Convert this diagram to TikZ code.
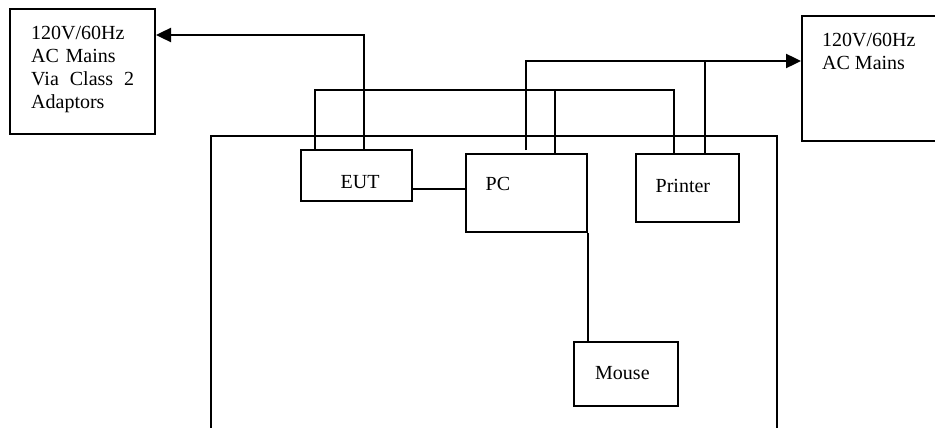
\documentclass[tikz,border=0pt]{standalone}
\usepackage{fontspec}
\setmainfont{Liberation Serif}
\usetikzlibrary{arrows.meta,calc}

\begin{document}
\begin{tikzpicture}[
  x=1pt, y=-1pt,
  font=\fontsize{20}{23}\selectfont,
  >={Triangle[length=15pt, width=14pt]},
  box/.style={rectangle, draw, line width=2pt, inner sep=0pt},
  lbl/.style={inner sep=0pt, align=left, anchor=north west},
  wire/.style={draw, line width=2pt},
  feed/.style={->, draw, line width=2.4pt},
]
\useasboundingbox (0,0) rectangle (935,428);
\clip (0,0) rectangle (935,428);

% ---- supply boxes ----
\node[box, minimum width=145pt, minimum height=125pt,
      label={[lbl, text width=103pt, xshift=22pt, yshift=-17.5pt]north west:{%
        120V/60Hz\\AC Mains\\Via\hfill Class\hfill 2\\Adaptors}}] (mainsL) at (82.5,71.5) {};
\node[box, minimum width=145pt, minimum height=125pt,
      label={[lbl, xshift=21pt, yshift=-17.5pt]north west:{120V/60Hz\\AC Mains}}] (mainsR) at (874.5,78.5) {};

% ---- table and equipment ----
\node[box, minimum width=566pt, minimum height=310pt] (table) at (494,291) {};
\node[box, minimum width=111pt, minimum height=51pt,
      label={[lbl, xshift=40.5pt, yshift=-26pt]north west:EUT}] (eut) at (356.5,175.5) {};
\node[box, minimum width=121pt, minimum height=78pt,
      label={[lbl, xshift=20.5pt, yshift=-24pt]north west:PC}] (pc) at (526.5,193) {};
\node[box, minimum width=103pt, minimum height=68pt,
      label={[lbl, xshift=20.5pt, yshift=-26.5pt]north west:Printer}] (printer) at (687.5,188) {};
\node[box, minimum width=104pt, minimum height=64pt,
      label={[lbl, xshift=22pt, yshift=-25.5pt]north west:Mouse}] (mouse) at (626,374) {};

% ---- power feeds ----
\coordinate (acL) at ($(mainsL.north east)+(0,27)$);
\coordinate (acR) at ($(mainsR.north west)+(0,46)$);
\draw[feed] ($(eut.north west)+(64,0)$) |- (acL);
\draw[feed] ($(pc.north west)+(61,-3)$) |- (acR);
\draw[wire] ($(printer.north west)+(70,0)$) coordinate (prA) -- (prA |- acR);

% ---- signal cables ----
\draw[wire] ($(eut.north west)+(15,0)$) -- ++(0,-59) -| ($(printer.north west)+(39,0)$);
\draw[wire] ($(pc.north west)+(90,0)$) -- ++(0,-63);
\draw[wire] ($(eut.south east)+(0,-13)$) coordinate (eutC) -- (eutC -| pc.west);
\draw[wire] (pc.south east) -- (pc.south east |- mouse.north);
\end{tikzpicture}
\end{document}
